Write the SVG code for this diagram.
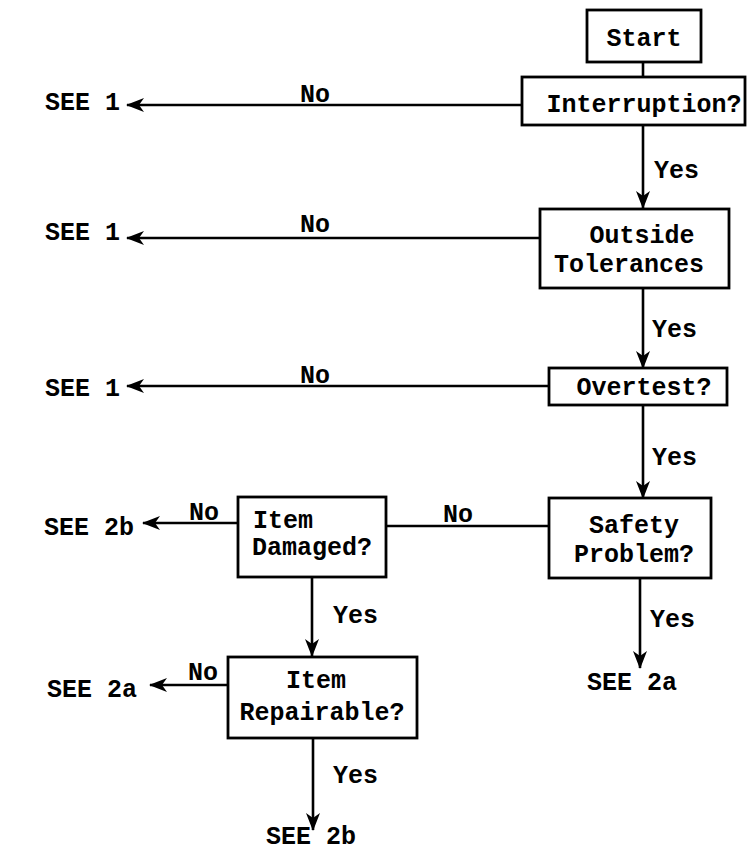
<svg xmlns="http://www.w3.org/2000/svg" width="748" height="852" viewBox="0 0 748 852">
<defs>
<marker id="ah" markerWidth="18" markerHeight="14" refX="17" refY="7" orient="auto" markerUnits="userSpaceOnUse">
<path d="M0,0 L18,7 L0,14 L5,7 Z" fill="#000"/>
</marker>
<style>
rect.box{fill:#fff;stroke:#000;stroke-width:2.8}
text{font-family:"Liberation Mono","DejaVu Sans Mono",monospace;font-size:25px;font-weight:bold;fill:#000}
.c{text-anchor:middle}
.ln{stroke:#000;stroke-width:2.6;fill:none}
.ar{marker-end:url(#ah)}
</style>
</defs>
<rect width="748" height="852" fill="#fff"/>
<g id="connectors">
<line class="ln" x1="643" y1="62" x2="643" y2="77"/>
<line class="ln ar" x1="523" y1="105" x2="127" y2="105"/>
<line class="ln ar" x1="643" y1="125" x2="643" y2="208"/>
<line class="ln ar" x1="540" y1="238" x2="127" y2="238"/>
<line class="ln ar" x1="643" y1="288" x2="643" y2="368"/>
<line class="ln ar" x1="549" y1="386" x2="127" y2="386"/>
<line class="ln ar" x1="643" y1="405" x2="643" y2="498"/>
<line class="ln" x1="549" y1="526" x2="386" y2="526"/>
<line class="ln ar" x1="238" y1="523" x2="143" y2="523"/>
<line class="ln ar" x1="312" y1="577" x2="312" y2="656"/>
<line class="ln ar" x1="228" y1="685" x2="150" y2="685"/>
<line class="ln ar" x1="313" y1="738" x2="313" y2="830"/>
<line class="ln ar" x1="640" y1="578" x2="640" y2="668"/>
<text x="300" y="102">No</text>
<text x="300" y="232">No</text>
<text x="300" y="383">No</text>
<text x="443" y="522">No</text>
<text x="189" y="520">No</text>
<text x="188" y="680">No</text>
<text x="654" y="178">Yes</text>
<text x="652" y="337">Yes</text>
<text x="652" y="465">Yes</text>
<text x="650" y="627">Yes</text>
<text x="333" y="623">Yes</text>
<text x="333" y="783">Yes</text>
</g>
<g id="start"><rect class="box" x="587" y="10" width="114" height="52"/><text class="c" x="644" y="46">Start</text></g>
<g id="interruption"><rect class="box" x="522" y="77" width="223" height="48"/><text class="c" x="644" y="112">Interruption?</text></g>
<g id="outside"><rect class="box" x="540" y="209" width="189" height="79"/><text class="c" x="642" y="243">Outside</text><text class="c" x="629" y="272">Tolerances</text></g>
<g id="overtest"><rect class="box" x="549" y="368" width="178" height="37"/><text class="c" x="644" y="395">Overtest?</text></g>
<g id="safety"><rect class="box" x="549" y="498" width="162" height="80"/><text class="c" x="634" y="533">Safety</text><text class="c" x="634" y="562">Problem?</text></g>
<g id="damaged"><rect class="box" x="238" y="497" width="148" height="80"/><text x="253" y="528">Item</text><text x="252" y="555">Damaged?</text></g>
<g id="repairable"><rect class="box" x="228" y="657" width="189" height="81"/><text class="c" x="316" y="688">Item</text><text class="c" x="322" y="720">Repairable?</text></g>
<g id="see1a"><text x="45" y="110">SEE 1</text></g>
<g id="see1b"><text x="45" y="240">SEE 1</text></g>
<g id="see1c"><text x="45" y="396">SEE 1</text></g>
<g id="see2b-left"><text x="44" y="535">SEE 2b</text></g>
<g id="see2a-left"><text x="47" y="697">SEE 2a</text></g>
<g id="see2a-right"><text x="587" y="690">SEE 2a</text></g>
<g id="see2b-bottom"><text x="266" y="844">SEE 2b</text></g>
</svg>
